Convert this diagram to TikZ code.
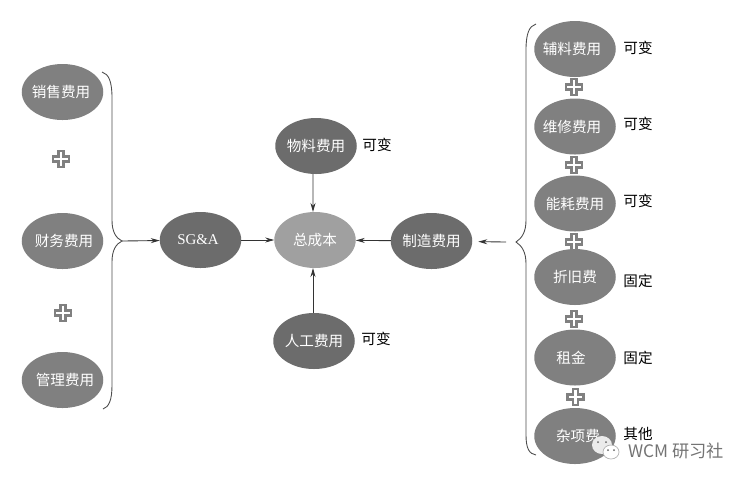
\documentclass[tikz,border=0pt]{standalone}
\usepackage{fontspec}
\usepackage{xcolor}
\usepackage{tikz}
\usetikzlibrary{arrows.meta,shapes.geometric}
\setmainfont{Liberation Serif}
\newfontfamily\cjk{Noto Sans CJK SC}
\definecolor{sidegray}{RGB}{128,128,128}
\definecolor{maingray}{RGB}{108,108,108}
\definecolor{totalgray}{RGB}{160,160,160}

\begin{document}
\begin{tikzpicture}[
    x=0.2mm, y=-0.2mm,
    every node/.style={font=\cjk\fontsize{8.3}{10}\selectfont},
    cost/.style={ellipse, inner xsep=-2mm, inner ysep=0pt, outer sep=0pt, minimum width=1.63cm, minimum height=1.12cm, text=white},
    side/.style={cost, fill=sidegray},
    core/.style={cost, fill=maingray},
    tag/.style={text=black, inner sep=0pt},
    flow/.style={-{Stealth[length=1.8mm,width=1mm]}, black!80, line width=0.5pt},
    curly/.style={black!70, line width=0.5pt},
    plussign/.pic={
        \draw[sidegray, line width=1.5pt, fill=white] (-2.6,-8) -- (2.6,-8) -- (2.6,-2.6) -- (8,-2.6) -- (8,2.6) -- (2.6,2.6) -- (2.6,8) -- (-2.6,8) -- (-2.6,2.6) -- (-8,2.6) -- (-8,-2.6) -- (-2.6,-2.6) -- cycle;
    },
]
\useasboundingbox (0,0) rectangle (749,482);

% left column
\node[side] (sales) at (62.5,92) {销售费用\hspace*{0.6mm}};
\node[side] (finance) at (62.5,241) {\hspace*{0.6mm}财务费用};
\node[side] (admin) at (62.5,380) {\hspace*{1mm}管理费用};
\pic at (61,159) {plussign};
\pic at (63,313) {plussign};

% centre
\node[core, font=\rmfamily\fontsize{8.5}{10}\selectfont] (sga) at (200.5,240) {SG\&A\hspace*{1mm}};
\node[cost, fill=totalgray] (total) at (315,240) {总成本};
\node[core] (material) at (316,146) {物料费用};
\node[core] (labor) at (314,341) {人工费用};
\node[core] (manuf) at (431.5,241) {制造费用};
\node[tag] (materialtag) at (377,145) {可变};
\node[tag] (labortag) at (376,339) {可变};

% right column
\node[side] (aux) at (575,49) {辅料费用\hspace*{1.2mm}};
\node[side] (repair) at (575,126.5) {维修费用\hspace*{1.2mm}};
\node[side] (energy) at (575,203.5) {能耗费用};
\node[side] (deprec) at (575,277) {折旧费};
\node[side] (rent) at (575,357.5) {租金\hspace*{1.6mm}};
\node[side] (misc) at (575,436) {\hspace*{1.2mm}杂项费};
\pic at (574,87) {plussign};
\pic at (574,165) {plussign};
\pic at (574,242) {plussign};
\pic at (574,319) {plussign};
\pic at (575.5,397) {plussign};
\node[tag] (auxtag) at (638,48) {可变};
\node[tag] (repairtag) at (638,124) {可变};
\node[tag] (energytag) at (638,201) {可变};
\node[tag] (deprectag) at (638,281) {固定};
\node[tag] (renttag) at (638,358) {固定};
\node[tag] (misctag) at (638,434) {其他};

% braces
\coordinate (ltip) at (122,241);
\coordinate (rtip) at (516,242);
\coordinate (rstart) at (506,242);
\draw[curly] (102,72) .. controls (109,74) and (112,82) .. (112,98) -- (112,220) .. controls (112,232) and (116,238) .. (ltip) .. controls (116,244) and (112,250) .. (112,262) -- (112,385) .. controls (112,400) and (109,407) .. (103,409);
\draw[curly] (536,24) .. controls (529,26) and (526,34) .. (526,50) -- (526,220) .. controls (526,232) and (522,238) .. (rtip) .. controls (522,246) and (526,252) .. (526,264) -- (526,435) .. controls (526,448) and (529,454) .. (536,455);

% connectors
\draw[flow] (ltip) -- (sga);
\draw[flow] (sga) -- (total);
\draw[flow, shorten >=1.2mm] (rstart) -- (manuf);
\draw[flow] (manuf) -- (total);
\draw[flow] ([xshift=-0.6mm]material.south) -- ([xshift=-0.4mm]total.north);
\draw[flow] ([xshift=-0.2mm]labor.north) -- ([xshift=-0.4mm]total.south);

% watermark
\fill[black!8] (602,445) ellipse (10 and 9);
\draw[black!30, fill=white, line width=0.4pt] (611,452) ellipse (8 and 7);
\fill[black!60] (598,442) circle (1) (606,442) circle (1) (608,450) circle (1) (614,450) circle (1);
\node[text=black!55, inner sep=0pt, font=\cjk\fontsize{9.8}{11}\selectfont] (mark) at (676,451) {WCM 研习社};
\end{tikzpicture}
\end{document}
